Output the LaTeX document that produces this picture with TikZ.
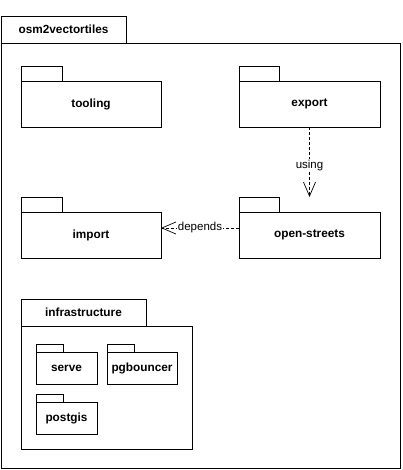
\documentclass[tikz,border=0pt]{standalone}
\usepackage{fontspec}
\setmainfont{Liberation Sans}
\usetikzlibrary{arrows.meta,positioning}

\begin{document}
\begin{tikzpicture}[x=1pt, y=-1pt,
	pkg/.style={draw, line width=0.8pt, inner sep=0pt, outer sep=0pt, font=\bfseries\fontsize{11.8}{13}\selectfont},
	tab/.style={pkg, anchor=south west},
	dep/.style={line width=0.7pt, dash pattern=on 3pt off 2pt, -{Straight Barb[length=14pt,width=12pt]}},
	lbl/.style={fill=white, inner sep=1pt, font=\fontsize{11.5}{13}\selectfont}]
	\useasboundingbox (0,0) rectangle (403,470);
	%Outer package
	\node[pkg, minimum width=399pt, minimum height=425pt] (root) at (200.5,255.5) {};
	\node[tab, minimum width=125pt, minimum height=27pt] (roottab) at (root.north west) {osm2vectortiles};
	%Top row
	\node[pkg, minimum width=140pt, minimum height=46pt] (tooling) at (91,104) {tooling};
	\node[tab, minimum width=41pt, minimum height=15pt] (toolingtab) at (tooling.north west) {};
	\node[pkg, minimum width=141pt, minimum height=46pt] (export) at (309.5,104) {export};
	\node[tab, minimum width=40pt, minimum height=15pt] (exporttab) at (export.north west) {};
	%Middle row
	\node[pkg, minimum width=140pt, minimum height=46pt] (import) at (91,235) {import};
	\node[tab, minimum width=41pt, minimum height=15pt] (importtab) at (import.north west) {};
	\node[pkg, minimum width=141pt, minimum height=46pt] (openstreets) at (309.5,235) {open-streets};
	\node[tab, minimum width=40pt, minimum height=15pt] (openstreetstab) at (openstreets.north west) {};
	%Infrastructure
	\node[pkg, minimum width=171pt, minimum height=123pt] (infra) at (106.5,387.5) {};
	\node[tab, minimum width=125pt, minimum height=27pt] (infratab) at (infra.north west) {infrastructure};
	\node[pkg, minimum width=61pt, minimum height=32pt] (serve) at (66.5,368) {serve};
	\node[tab, minimum width=27pt, minimum height=8pt] (servetab) at (serve.north west) {};
	\node[pkg, minimum width=70pt, minimum height=32pt] (pgbouncer) at (142,368) {pgbouncer};
	\node[tab, minimum width=27pt, minimum height=8pt] (pgbouncertab) at (pgbouncer.north west) {};
	\node[pkg, minimum width=61pt, minimum height=32pt] (postgis) at (66.5,418) {postgis};
	\node[tab, minimum width=27pt, minimum height=8pt] (postgistab) at (postgis.north west) {};
	%Dependencies
	\draw[dep] (export.south) -- node[lbl, pos=0.55] {using} (export.south |- openstreetstab.north);
	\draw[dep] ([yshift=7pt]openstreets.west) -- node[lbl] {depends} ([yshift=7pt]import.east);
\end{tikzpicture}
\end{document}
